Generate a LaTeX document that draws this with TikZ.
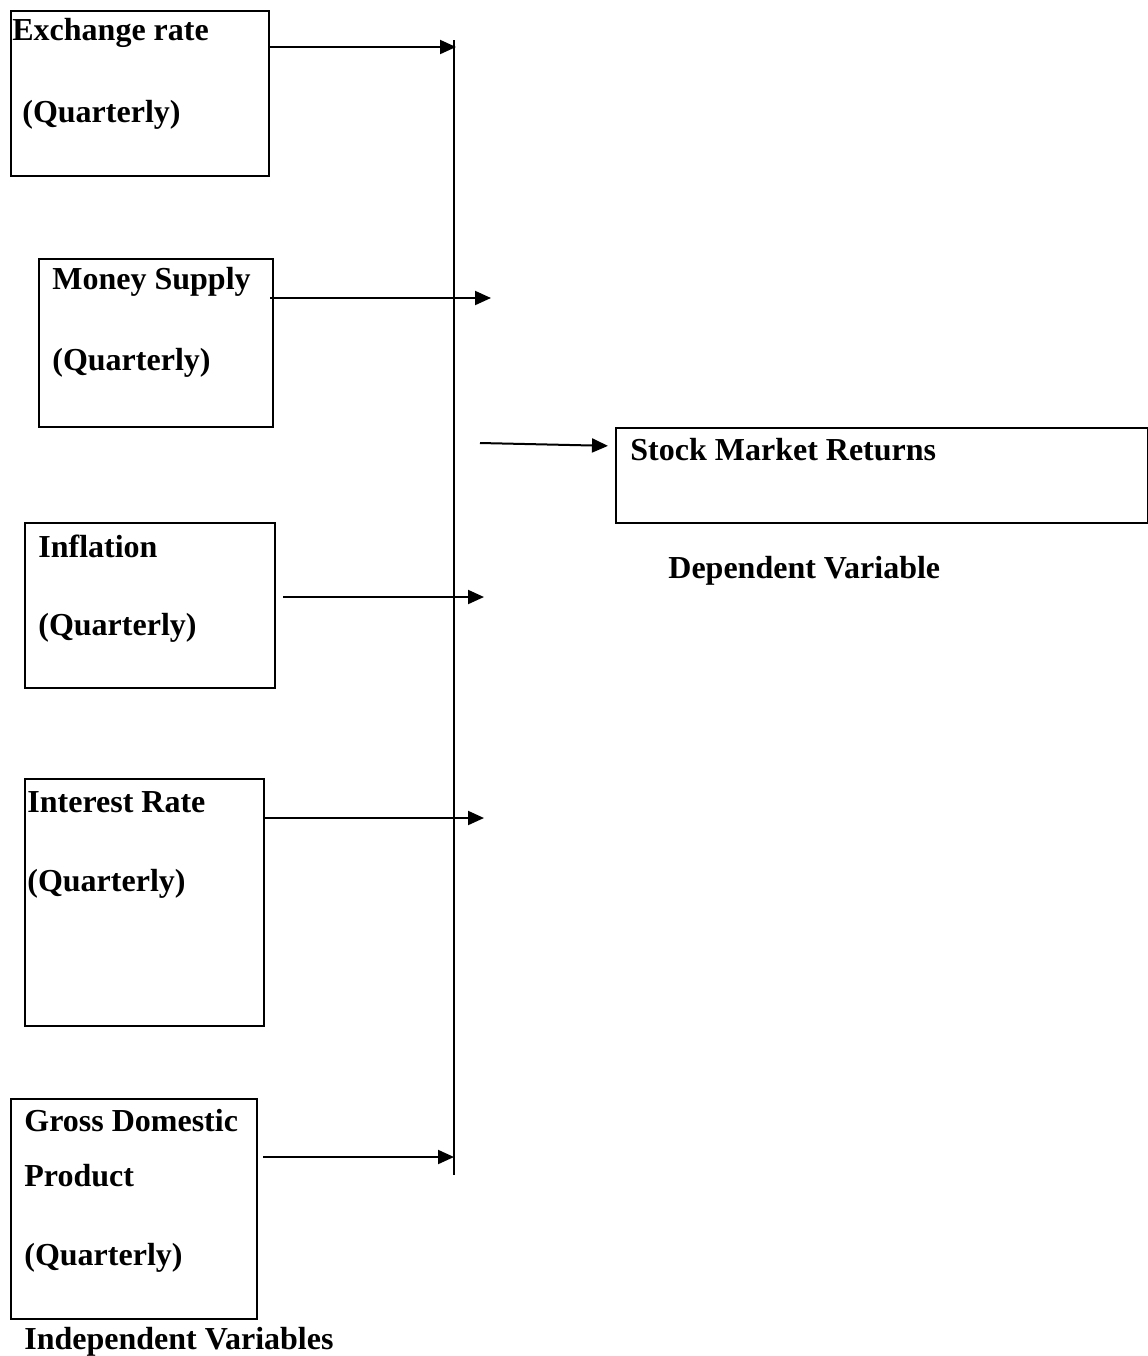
\documentclass[tikz,border=0pt]{standalone}
\usepackage{fontspec}
\setmainfont{Liberation Serif}
\usetikzlibrary{arrows.meta}

\begin{document}
\begin{tikzpicture}[x=0.5pt,y=-0.5pt,
  vbox/.style={draw,line width=1pt,inner sep=0pt,anchor=north west},
  lbl/.style={anchor=west,inner sep=0pt,yshift=-1.5pt,font=\bfseries\fontsize{16}{19}\selectfont},
  link/.style={line width=1pt,-{Triangle[length=8pt,width=7pt]}}]
  \useasboundingbox (0,0) rectangle (1147,1356);

  %% independent variables
  \node[vbox,minimum width=129pt,minimum height=82.5pt] (xr) at (10,10) {};
  \node[lbl] (xr1) at (12,30) {Exchange rate};
  \node[lbl] (xr2) at (22,112) {(Quarterly)};

  \node[vbox,minimum width=117pt,minimum height=84pt] (ms) at (38,258) {};
  \node[lbl] (ms1) at (52,279) {Money Supply};
  \node[lbl] (ms2) at (52,360) {(Quarterly)};

  \node[vbox,minimum width=125pt,minimum height=82.5pt] (inf) at (24,522) {};
  \node[lbl] (inf1) at (38,543) {Inflation};
  \node[lbl] (inf2) at (38,625) {(Quarterly)};

  \node[vbox,minimum width=119.5pt,minimum height=123.5pt] (ir) at (24,778) {};
  \node[lbl] (ir1) at (27,799) {Interest Rate};
  \node[lbl] (ir2) at (27,881) {(Quarterly)};

  \node[vbox,minimum width=123pt,minimum height=110pt] (gdp) at (10,1098) {};
  \node[lbl] (gdp1) at (24,1118) {Gross Domestic};
  \node[lbl] (gdp2) at (24,1173) {Product};
  \node[lbl] (gdp3) at (24,1255) {(Quarterly)};

  \node[lbl] (indep) at (24,1339) {Independent Variables};

  %% dependent variable
  \node[vbox,minimum width=266pt,minimum height=47.5pt] (smr) at (615,427) {};
  \node[lbl] (smr1) at (630,447) {Stock Market Returns};
  \node[lbl] (dep) at (668,568) {Dependent Variable};

  %% bus
  \coordinate (bustop) at (454,40);
  \coordinate (busbot) at (454,1175);
  \draw[line width=1pt] (bustop) -- (busbot);

  \coordinate (in1) at (456,47);
  \coordinate (in2) at (491,298);
  \coordinate (in3) at (484,597);
  \coordinate (in4) at (484,818);
  \coordinate (in5) at (454,1157);
  \coordinate (out) at (480,443);

  \draw[link,shorten <=-1pt] (xr.east |- in1) -- (in1);
  \draw[link,shorten <=-2pt] (ms.east |- in2) -- (in2);
  \draw[link,shorten <=3.5pt] (inf.east |- in3) -- (in3);
  \draw[link] (ir.east |- in4) -- (in4);
  \draw[link,shorten <=2.5pt] (gdp.east |- in5) -- (in5);
  \draw[link,shorten >=3.5pt] (out) -- (smr.west |- 0,446);
\end{tikzpicture}
\end{document}
